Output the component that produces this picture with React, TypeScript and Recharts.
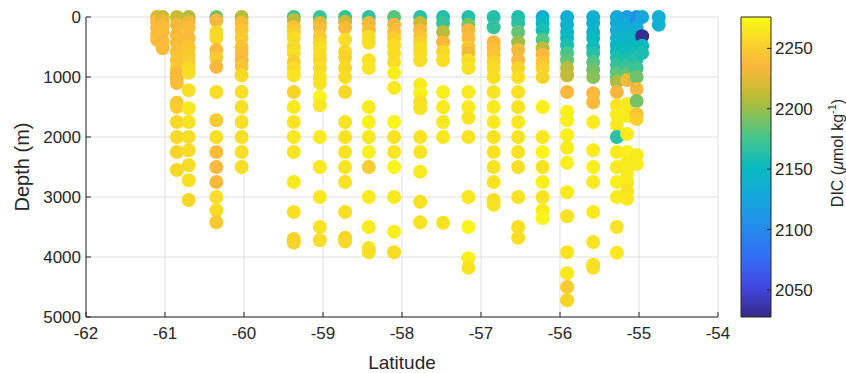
import { ScatterChart, Scatter, XAxis, YAxis, CartesianGrid, BarChart, Bar } from "recharts"

// station latitudes, and for each station the sample depths (m) and DIC (umol/kg)
const stationLats = [
  -61.1, -61.03, -60.85, -60.7, -60.35, -60.03, -59.37, -59.04, -58.72, -58.42, -58.1, -57.77,
  -57.48, -57.16, -56.84, -56.53, -56.22, -55.91, -55.58, -55.28, -55.15, -55.03, -54.96, -54.75,
]

const stationDepths = [
  [0, 80, 180, 300, 380],
  [0, 60, 150, 250, 400, 520],
  [0, 130, 300, 430, 580, 720, 850, 930, 1020, 1100, 1430, 1500, 1750, 2000, 2250, 2550],
  [0, 80, 180, 350, 500, 630, 750, 850, 930, 1220, 1520, 1750, 2000, 2220, 2470, 2720, 3050],
  [0, 60, 250, 350, 550, 680, 830, 1250, 1720, 2000, 2250, 2500, 2750, 3000, 3220, 3420],
  [0, 100, 220, 350, 500, 600, 720, 830, 970, 1250, 1500, 1750, 2000, 2250, 2500],
  [0, 50, 170, 250, 350, 500, 600, 750, 850, 970, 1250, 1500, 1750, 2000, 2250, 2750, 3250, 3700, 3760],
  [0, 100, 180, 330, 430, 520, 630, 720, 850, 1000, 1100, 1330, 1470, 2000, 2500, 3000, 3500, 3720],
  [0, 80, 180, 380, 580, 680, 850, 1000, 1250, 1750, 2000, 2250, 2500, 2750, 3250, 3680, 3740],
  [0, 100, 220, 330, 430, 720, 850, 1500, 1750, 2000, 2250, 2500, 3000, 3500, 3850, 3920],
  [0, 130, 250, 350, 470, 600, 750, 930, 1180, 1750, 2000, 2250, 2500, 3000, 3580, 3920],
  [0, 100, 220, 330, 420, 520, 600, 720, 1130, 1270, 1420, 1520, 2000, 2250, 2580, 3080, 3420],
  [0, 100, 250, 420, 580, 720, 1250, 1500, 1750, 2000, 3430],
  [0, 130, 220, 350, 500, 600, 720, 850, 1250, 1500, 1680, 2000, 3000, 3500, 4020, 4180],
  [0, 170, 420, 520, 630, 750, 850, 1000, 1250, 1500, 1750, 2000, 2250, 2500, 2750, 3050, 3130],
  [0, 100, 250, 420, 550, 720, 850, 1000, 1250, 1500, 1750, 2000, 2250, 2500, 3000, 3500, 3680],
  [0, 100, 220, 380, 520, 630, 750, 850, 1000, 1500, 2000, 2250, 2500, 2750, 3000, 3220, 3350],
  [0, 130, 250, 350, 470, 600, 720, 850, 970, 1250, 1580, 1720, 1970, 2180, 2430, 2920, 3320, 3920, 4270, 4500, 4720],
  [0, 100, 250, 350, 500, 600, 750, 880, 1000, 1270, 1420, 1750, 2220, 2500, 2750, 3250, 3750, 4130, 4180],
  [0, 100, 220, 350, 470, 580, 680, 800, 920, 1000, 1080, 1250, 1470, 1630, 1800, 2000, 2250, 2500, 2750, 3000, 3500, 3930],
  [0, 100, 200, 320, 450, 580, 700, 820, 950, 1050, 1450, 1650, 1950, 2250, 2420, 2600, 2750, 2900, 3030],
  [0, 60, 180, 300, 420, 550, 700, 850, 1000, 1200, 1400, 1620, 1700, 2300, 2450],
  [0, 320, 480, 600],
  [0, 130],
]

const stationDic = [
  [2222, 2236, 2240, 2238, 2240],
  [2215, 2228, 2238, 2240, 2236, 2238],
  [2215, 2232, 2238, 2240, 2242, 2245, 2250, 2238, 2235, 2240, 2248, 2250, 2257, 2258, 2255, 2257],
  [2208, 2230, 2240, 2238, 2245, 2248, 2250, 2258, 2261, 2261, 2265, 2263, 2261, 2259, 2259, 2261, 2257],
  [2190, 2235, 2258, 2258, 2238, 2250, 2234, 2259, 2250, 2261, 2240, 2236, 2236, 2259, 2260, 2248],
  [2210, 2240, 2245, 2250, 2245, 2240, 2238, 2245, 2258, 2261, 2261, 2261, 2261, 2261, 2261],
  [2170, 2210, 2245, 2252, 2260, 2257, 2261, 2252, 2260, 2263, 2255, 2267, 2263, 2265, 2263, 2267, 2261, 2255, 2255],
  [2172, 2225, 2240, 2250, 2255, 2260, 2260, 2257, 2260, 2263, 2263, 2272, 2265, 2267, 2265, 2265, 2263, 2260],
  [2168, 2215, 2238, 2260, 2257, 2255, 2257, 2260, 2257, 2263, 2263, 2263, 2263, 2263, 2261, 2255, 2257],
  [2168, 2232, 2240, 2260, 2261, 2263, 2265, 2267, 2270, 2265, 2270, 2250, 2267, 2267, 2263, 2261],
  [2182, 2232, 2240, 2252, 2260, 2260, 2261, 2270, 2267, 2272, 2263, 2265, 2272, 2265, 2270, 2260],
  [2165, 2215, 2236, 2245, 2255, 2260, 2260, 2261, 2267, 2270, 2261, 2263, 2263, 2263, 2267, 2263, 2263],
  [2162, 2170, 2210, 2235, 2257, 2261, 2270, 2267, 2265, 2265, 2263],
  [2162, 2190, 2235, 2238, 2245, 2232, 2260, 2263, 2267, 2267, 2263, 2263, 2265, 2272, 2270, 2263],
  [2162, 2168, 2235, 2240, 2245, 2255, 2260, 2261, 2263, 2267, 2265, 2263, 2263, 2263, 2263, 2260, 2263],
  [2160, 2165, 2185, 2200, 2232, 2238, 2255, 2261, 2263, 2263, 2265, 2263, 2263, 2261, 2263, 2261, 2260],
  [2135, 2150, 2158, 2180, 2210, 2236, 2245, 2252, 2255, 2270, 2265, 2272, 2263, 2270, 2263, 2267, 2272],
  [2135, 2138, 2145, 2150, 2158, 2175, 2185, 2208, 2212, 2236, 2270, 2270, 2270, 2267, 2270, 2267, 2263, 2263, 2265, 2250, 2255],
  [2135, 2138, 2140, 2150, 2155, 2162, 2180, 2188, 2195, 2236, 2238, 2267, 2267, 2270, 2267, 2267, 2263, 2263, 2261],
  [2125, 2130, 2135, 2142, 2148, 2152, 2160, 2168, 2180, 2185, 2205, 2235, 2263, 2267, 2267, 2165, 2267, 2267, 2270, 2267, 2263, 2265],
  [2120, 2128, 2135, 2142, 2148, 2152, 2158, 2170, 2185, 2232, 2267, 2267, 2267, 2270, 2267, 2267, 2267, 2263, 2265],
  [2112, 2100, 2132, 2140, 2148, 2155, 2162, 2172, 2188, 2236, 2190, 2245, 2252, 2267, 2267],
  [2125, 2030, 2150, 2158],
  [2135, 2138],
]

const latTicks = [-62, -61, -60, -59, -58, -57, -56, -55, -54]
const depthTicks = [0, 1000, 2000, 3000, 4000, 5000]
const dicTicks = [2050, 2100, 2150, 2200, 2250]
const dicMin = 2027.5
const dicMax = 2276

// parula-like colour stops: [t, r, g, b]
const parula = [
  [0.0, 53, 42, 135],
  [0.1, 65, 70, 225],
  [0.2, 52, 110, 245],
  [0.3, 35, 140, 235],
  [0.4, 20, 168, 220],
  [0.5, 10, 186, 190],
  [0.6, 70, 198, 140],
  [0.7, 160, 190, 70],
  [0.76, 205, 187, 50],
  [0.84, 252, 184, 60],
  [0.9, 248, 205, 45],
  [1.0, 249, 251, 21],
]

function dicColor(v: number) {
  const t = Math.max(0, Math.min(1, (v - dicMin) / (dicMax - dicMin)))
  for (let i = 1; i < parula.length; i++) {
    const a = parula[i - 1]
    const b = parula[i]
    if (t <= b[0]) {
      const f = (t - a[0]) / (b[0] - a[0])
      const c = [1, 2, 3].map((k) => Math.round(a[k] + (b[k] - a[k]) * f))
      return `rgb(${c[0]},${c[1]},${c[2]})`
    }
  }
  return "rgb(249,251,21)"
}

const points = stationLats.flatMap((lat, i) =>
  stationDepths[i].map((depth, j) => ({ lat, depth, dic: stationDic[i][j] }))
)

const font = "'Liberation Sans', Arial, sans-serif"
const axisColor = "#262626"
const tickStyle = { fill: axisColor, fontSize: 17, fontFamily: font }

const DicDot = (props: any) => {
  const { cx, cy, payload } = props
  if (cx == null || cy == null) return null
  return <circle cx={cx} cy={cy} r={7} fill={dicColor(payload.dic)} />
}

export default function App() {
  return (
    <div style={{ position: "absolute", left: 0, top: 0, width: 846, height: 373, background: "#fff" }}>
      <ScatterChart width={846} height={373} margin={{ top: 17, right: 128, bottom: 16, left: 0 }}>
        <CartesianGrid stroke="#e0e0e0" />
        <XAxis
          dataKey="lat"
          type="number"
          domain={[-62, -54]}
          ticks={latTicks}
          height={40}
          stroke={axisColor}
          tickSize={-5}
          tickMargin={15}
          tick={tickStyle}
          label={{ value: "Latitude", position: "center", dy: 25, fill: axisColor, fontSize: 19, fontFamily: font }}
        />
        <XAxis
          xAxisId="top"
          orientation="top"
          type="number"
          domain={[-62, -54]}
          ticks={latTicks}
          height={0}
          stroke={axisColor}
          tickSize={-5}
          tick={false}
        />
        <YAxis
          dataKey="depth"
          type="number"
          domain={[0, 5000]}
          reversed
          ticks={depthTicks}
          width={86}
          stroke={axisColor}
          tickSize={-5}
          tickMargin={10}
          tick={tickStyle}
          label={{ value: "Depth (m)", angle: -90, position: "center", dx: -21, fill: axisColor, fontSize: 20, fontFamily: font }}
        />
        <YAxis
          yAxisId="right"
          orientation="right"
          type="number"
          domain={[0, 5000]}
          reversed
          ticks={depthTicks}
          width={0}
          stroke={axisColor}
          tickSize={-5}
          tick={false}
        />
        <Scatter data={points} shape={DicDot} isAnimationActive={false} />
      </ScatterChart>

      <div style={{ position: "absolute", left: 735, top: 0 }}>
        <BarChart
          width={111}
          height={373}
          data={[{ k: "cb", v: [dicMin, dicMax] }]}
          margin={{ top: 17, right: 0, bottom: 56, left: 6 }}
          barCategoryGap={0}
        >
          <defs>
            <linearGradient id="parulaGrad" x1="0" y1="1" x2="0" y2="0">
              {parula.map((s) => (
                <stop key={s[0]} offset={s[0]} stopColor={`rgb(${s[1]},${s[2]},${s[3]})`} />
              ))}
            </linearGradient>
          </defs>
          <XAxis dataKey="k" hide />
          <YAxis
            orientation="right"
            type="number"
            domain={[dicMin, dicMax]}
            ticks={dicTicks}
            width={75}
            axisLine={false}
            stroke={axisColor}
            tickSize={-4}
            tickMargin={8}
            tick={tickStyle}
          />
          <Bar dataKey="v" fill="url(#parulaGrad)" stroke={axisColor} strokeWidth={1} isAnimationActive={false} />
        </BarChart>
      </div>

      <svg width={30} height={373} style={{ position: "absolute", left: 822, top: 0 }}>
        <text
          transform="translate(21,153) rotate(-90)"
          textAnchor="middle"
          fill={axisColor}
          fontSize={16}
          fontFamily={font}
        >
          DIC (<tspan fontStyle="italic">μ</tspan>mol kg
          <tspan fontSize={11} dy={-7}>-1</tspan>
          <tspan dy={7}>)</tspan>
        </text>
      </svg>
    </div>
  )
}
